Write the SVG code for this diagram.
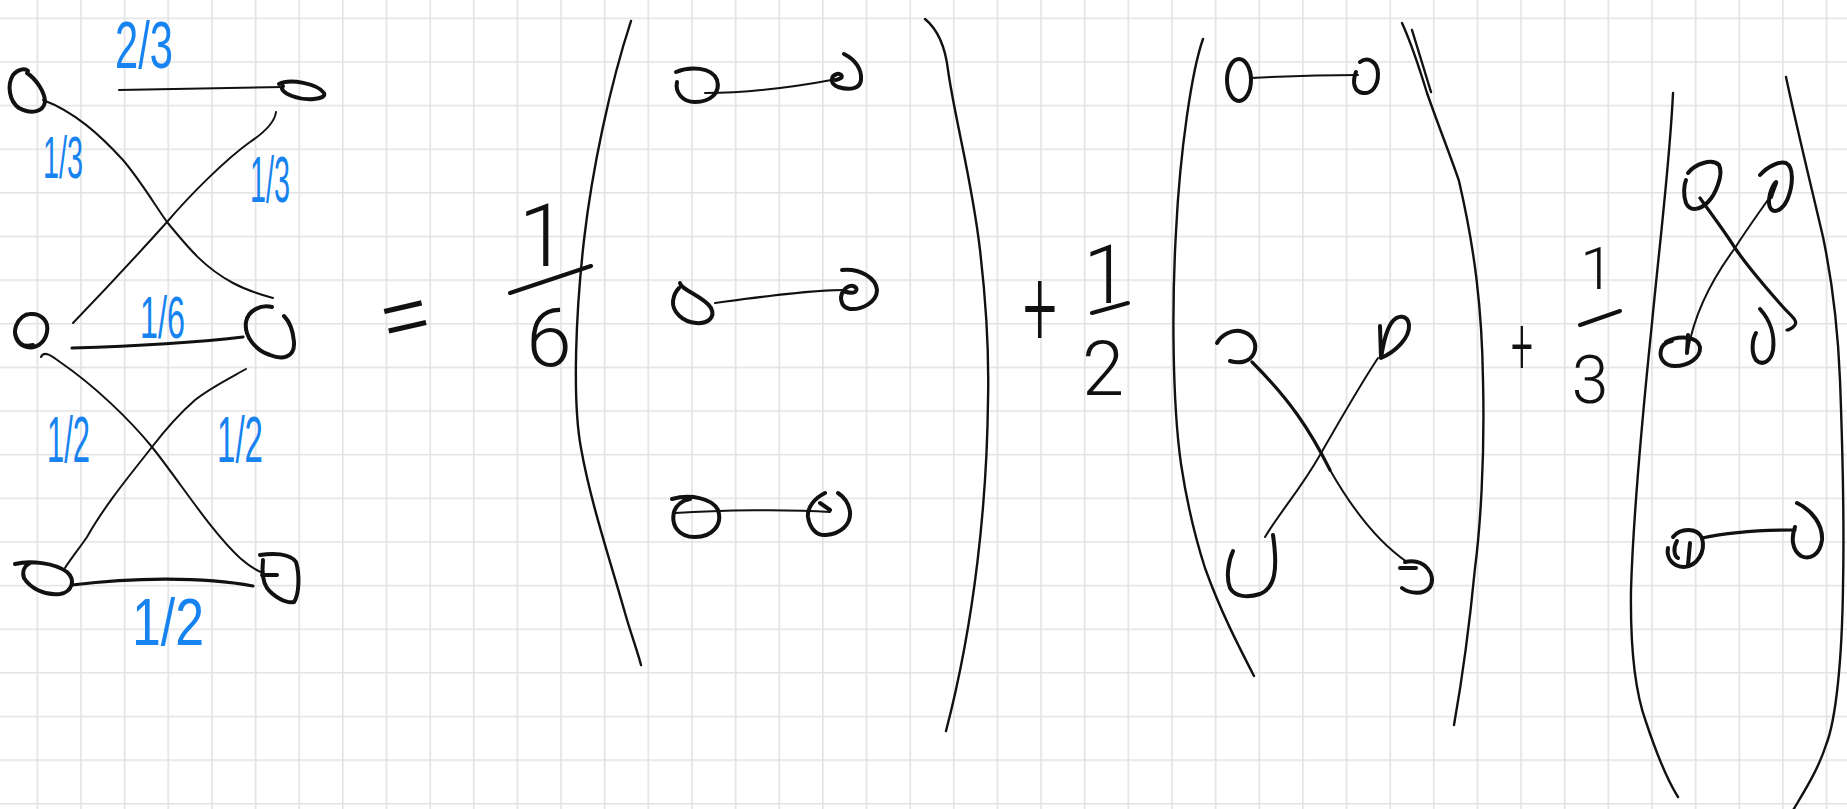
<svg xmlns="http://www.w3.org/2000/svg" width="1847" height="809" viewBox="0 0 1847 809">
<defs>
<pattern id="grid" x="36.5" y="17.5" width="43.64" height="43.64" patternUnits="userSpaceOnUse">
<path d="M0.8,0 V43.64 M0,0.8 H43.64" stroke="#e2e2e2" stroke-width="1.6" fill="none"/>
</pattern>
<style>
.n{fill:none;stroke:#111;stroke-width:4;stroke-linecap:round;stroke-linejoin:round}
.e{fill:none;stroke:#111;stroke-width:2;stroke-linecap:round}
.et{fill:none;stroke:#111;stroke-width:3.2;stroke-linecap:round}
.b{fill:none;stroke:#111;stroke-width:2.4;stroke-linecap:round}
.bar{stroke:#111;stroke-width:4;stroke-linecap:round}
.lbl{font-family:"Liberation Sans",Arial,sans-serif;fill:#1683f0}
.blk{font-family:Roboto,"Liberation Sans",Arial,sans-serif;font-weight:300;fill:#111}
</style>
</defs>
<rect width="1847" height="809" fill="#ffffff"/>
<rect width="1847" height="809" fill="url(#grid)"/>

<!-- left graph nodes -->
<g id="node-top-left"><path class="n" d="M27,73 C36,79 45,92 45,102 C43,113 30,114 19,108 C9,101 7,85 13,75 C18,69 25,68 28,71"/></g>
<g id="node-top-right"><path class="n" d="M279,84 C290,78 318,84 324,93 C327,100 305,101 292,96 C284,93 280,89 283,86"/></g>
<g id="node-mid-left"><path class="n" d="M30,314 C42,313 49,322 47,332 C45,343 36,349 27,347 C17,345 13,335 16,326 C19,318 25,314 30,314 M15,333 C17,342 22,348 33,345"/></g>
<g id="node-mid-right"><path class="n" d="M272,307 C262,304 248,310 246,322 C244,336 255,350 270,355 C282,360 295,358 294,342 C293,330 290,322 284,316"/></g>
<g id="node-bot-left"><path class="n" d="M15,564 C30,560 55,563 67,572 C76,580 72,592 60,594 C45,596 30,588 24,578 C22,572 24,566 30,563"/></g>
<g id="node-bot-right"><path class="n" d="M260,555 C272,553 290,553 296,562 C300,575 299,595 294,602 C286,604 273,596 267,588 C263,582 262,570 263,560 M262,575 L277,575"/></g>

<!-- first bracket nodes -->
<g id="t1-a1"><path class="n" d="M676,72 C690,66 712,67 717,80 C721,93 710,102 695,102 C682,102 675,92 677,82"/></g>
<g id="t1-a2"><path class="n" d="M844,54 C856,60 862,70 861,80 C860,90 848,90 838,87 C830,84 830,76 837,74 C842,73 845,78 836,80"/></g>
<g id="t1-b1"><path class="n" d="M680,283 C681,290 705,297 711,308 C716,318 707,324 696,323 C683,322 672,312 673,301 C674,294 677,290 679,288"/></g>
<g id="t1-b2"><path class="n" d="M842,270 C860,268 876,278 877,290 C877,302 862,310 850,309 C840,307 838,295 846,288 C852,283 860,288 855,292 C851,294 846,292 843,291"/></g>
<g id="t1-c1"><path class="n" d="M672,499 C690,494 712,498 718,510 C723,525 712,537 695,537 C678,537 671,525 674,512 C676,505 683,500 690,499"/></g>
<g id="t1-c2"><path class="n" d="M825,493 C815,498 807,507 808,517 C810,530 818,536 826,535 C840,534 851,525 850,512 C849,503 844,497 838,493 M820,503 L830,510"/></g>

<!-- second bracket nodes -->
<g id="t2-a1"><ellipse class="n" cx="1239" cy="80" rx="12" ry="21"/></g>
<g id="t2-a2"><path class="n" d="M1360,62 C1368,56 1378,62 1378,74 C1378,86 1372,94 1363,93 C1354,92 1352,82 1356,72"/></g>
<g id="t2-b1"><path class="n" d="M1217,343 C1222,334 1232,330 1240,331 C1252,333 1258,343 1254,353 C1250,362 1240,364 1230,361"/></g>
<g id="t2-b2"><path class="n" d="M1380,326 L1381,358 C1395,352 1410,338 1409,325 C1408,315 1398,314 1392,322 C1386,330 1383,345 1381,358"/></g>
<g id="t2-c1"><path class="n" d="M1233,551 C1228,562 1226,578 1230,588 C1235,597 1248,598 1260,594 C1275,588 1278,570 1273,535"/></g>
<g id="t2-c2"><path class="n" d="M1400,568 L1416,568 M1405,562 C1425,558 1437,575 1430,587 C1424,595 1410,594 1402,588"/></g>

<!-- third bracket nodes -->
<g id="t3-a1"><path class="n" d="M1688,173 C1695,164 1712,158 1719,165 C1724,175 1715,195 1708,202 C1700,210 1690,212 1686,203 C1683,195 1684,185 1686,180"/></g>
<g id="t3-a2"><path class="n" d="M1760,175 C1768,166 1780,161 1786,163 C1794,167 1793,185 1788,198 C1784,208 1777,213 1772,210 C1766,205 1770,190 1775,183 C1778,180 1775,185 1771,197"/></g>
<g id="t3-b1"><path class="n" d="M1666,342 C1678,335 1698,336 1700,347 C1701,358 1688,366 1675,366 C1664,366 1659,358 1661,350 C1662,345 1667,342 1672,341 M1688,335 L1687,353"/></g>
<g id="t3-b2"><path class="n" d="M1760,309 C1770,320 1775,335 1773,350 C1771,362 1762,366 1756,360 C1751,353 1752,340 1756,333"/></g>
<g id="t3-c1"><path class="n" d="M1673,537 C1680,528 1697,527 1702,538 C1706,552 1697,566 1684,567 C1673,567 1666,558 1668,548 M1677,541 C1673,548 1674,556 1678,558 M1690,543 L1688,565"/></g>
<g id="t3-c2"><path class="n" d="M1797,503 C1812,510 1823,525 1822,540 C1820,555 1810,560 1801,556 C1792,550 1791,538 1795,527"/></g>

<!-- connectors -->
<g id="connectors">
<path class="e" d="M119,90 C180,89 240,88 283,87"/>
<path class="e" d="M43,100 C75,112 100,135 123,160 C140,180 155,205 167,222 C190,250 205,268 233,283 C248,291 262,295 273,298"/>
<path class="e" d="M276,112 C275,120 268,130 250,142 C225,160 190,195 167,222 C140,252 100,295 73,323"/>
<path class="et" d="M72,348 C140,346 200,342 243,337"/>
<path class="e" d="M41,357 C44,350 52,356 60,362 C95,386 130,420 152,447 C180,482 210,530 240,558 C248,565 255,570 263,573"/>
<path class="e" d="M246,369 C230,378 210,388 195,400 C178,415 165,430 152,447 C130,475 105,505 87,537 C78,550 70,560 65,568"/>
<path class="et" d="M72,585 C130,578 200,576 253,586"/>

<path class="e" d="M705,93 C750,93 800,86 837,79"/>
<path class="e" d="M715,303 C760,297 810,290 843,290"/>
<path class="e" d="M675,513 C720,510 790,509 830,512"/>

<path class="e" d="M1251,78 C1290,76 1330,75 1358,75"/>
<path class="et" d="M1252,362 C1290,400 1310,430 1330,470"/>
<path class="e" d="M1330,470 C1350,505 1375,540 1407,562"/>
<path class="e" d="M1378,358 C1360,385 1340,420 1320,455 C1300,490 1280,512 1265,537"/>

<path class="et" d="M1700,198 C1712,215 1725,232 1735,248 C1750,270 1768,290 1783,307 C1790,315 1798,320 1795,325 C1792,329 1788,330 1787,330"/>
<path class="e" d="M1770,197 C1755,218 1745,232 1735,248 C1715,275 1695,310 1688,350"/>
<path class="et" d="M1702,538 C1730,532 1765,530 1795,530"/>
</g>

<!-- edge labels -->
<g id="edge-labels">
<text class="lbl" x="115" y="68" font-size="66" textLength="58" lengthAdjust="spacingAndGlyphs">2/3</text>
<text class="lbl" x="43" y="178" font-size="60" textLength="40" lengthAdjust="spacingAndGlyphs">1/3</text>
<text class="lbl" x="250" y="202" font-size="64" textLength="40" lengthAdjust="spacingAndGlyphs">1/3</text>
<text class="lbl" x="140" y="338" font-size="60" textLength="45" lengthAdjust="spacingAndGlyphs">1/6</text>
<text class="lbl" x="47" y="462" font-size="64" textLength="43" lengthAdjust="spacingAndGlyphs">1/2</text>
<text class="lbl" x="217" y="462" font-size="64" textLength="46" lengthAdjust="spacingAndGlyphs">1/2</text>
<text class="lbl" x="132" y="645" font-size="66" textLength="72" lengthAdjust="spacingAndGlyphs">1/2</text>
</g>

<!-- equation symbols -->
<g id="equals"><text class="blk" x="406" y="350" font-size="100" text-anchor="middle" textLength="52" lengthAdjust="spacingAndGlyphs" transform="rotate(-13 406 321)">=</text></g>
<g id="coef-1-6">
<text class="blk" x="543" y="266" font-size="88" text-anchor="middle">1</text>
<line class="bar" x1="510" y1="293" x2="591" y2="266"/>
<text class="blk" x="549" y="366" font-size="82" text-anchor="middle">6</text>
</g>
<g id="plus-1"><text class="blk" x="1040" y="346" font-size="110" text-anchor="middle" textLength="34" lengthAdjust="spacingAndGlyphs">+</text></g>
<g id="coef-1-2">
<text class="blk" x="1106" y="303" font-size="82" text-anchor="middle">1</text>
<line class="bar" x1="1092" y1="313" x2="1128" y2="303"/>
<text class="blk" x="1103" y="395" font-size="76" text-anchor="middle">2</text>
</g>
<g id="plus-2"><text class="blk" x="1522" y="374" font-size="82" text-anchor="middle" textLength="22" lengthAdjust="spacingAndGlyphs">+</text></g>
<g id="coef-1-3">
<text class="blk" x="1597" y="289" font-size="60" text-anchor="middle">1</text>
<line class="bar" x1="1580" y1="325" x2="1620" y2="311"/>
<text class="blk" x="1590" y="403" font-size="66" text-anchor="middle">3</text>
</g>

<!-- brackets -->
<g id="brackets">
<path class="b" d="M631,21 C610,85 592,170 584,240 C576,310 572,400 581,448 C590,500 610,560 625,613 C632,637 637,650 641,665"/>
<path class="b" d="M925,19 C936,28 945,45 948,70 C955,120 972,180 980,250 C987,310 989,360 988,400 C987,500 975,620 946,731" stroke-width="3"/>
<path class="b" d="M1203,39 C1192,70 1180,150 1176,232 C1172,300 1172,400 1181,464 C1188,510 1196,540 1205,568 C1220,610 1238,645 1254,676"/>
<path class="b" d="M1402,23 C1412,45 1420,70 1427,93 C1440,130 1452,160 1459,181 C1475,250 1482,310 1483,380 C1485,460 1480,530 1475,568 C1470,620 1462,680 1454,725"/>
<path class="b" d="M1412,30 L1431,92" stroke-width="3"/>
<path class="b" d="M1673,93 C1670,160 1660,240 1652,323 C1642,420 1633,520 1631,590 C1630,660 1638,700 1646,722 C1656,752 1666,778 1678,797"/>
<path class="b" d="M1786,77 C1795,120 1812,190 1823,237 C1832,280 1838,330 1840,380 C1843,460 1844,540 1843,587 C1842,660 1836,720 1826,745 C1818,770 1805,790 1792,812"/>
</g>
</svg>
